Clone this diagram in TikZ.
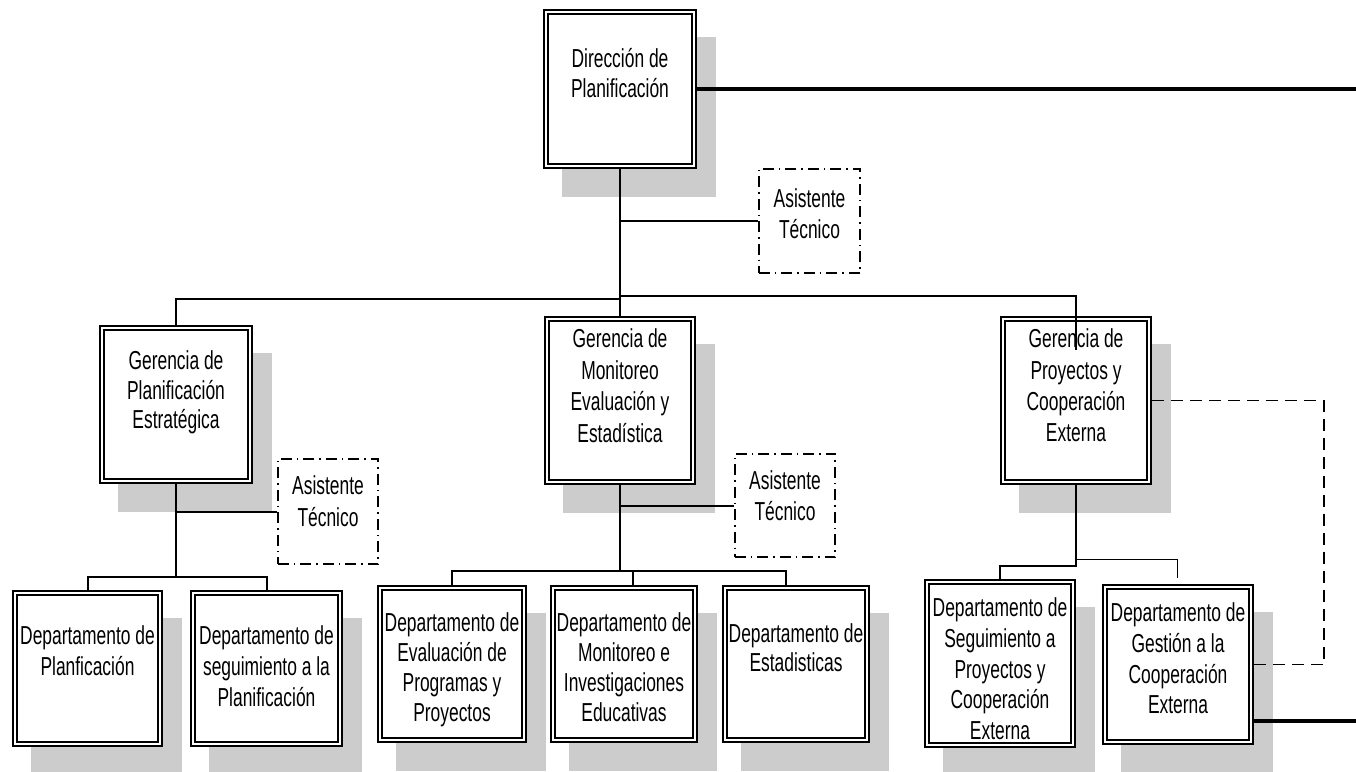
\documentclass[tikz,border=0pt]{standalone}
\usepackage{fontspec}
\setmainfont{Liberation Sans}[FakeStretch=0.67]
\usetikzlibrary{backgrounds}
\newcommand{\orgbox}[5]{%
  \node[obox, minimum width={(#4-#2-5.6)*1pt}, minimum height={(#5-#3-5.6)*1pt}] (#1) at ({(#2+#4)/2},{(#3+#5)/2}) {};
  \begin{pgfonlayer}{background}\fill[shadowc] (#2+19,#3+28) rectangle (#4+19,#5+28);\end{pgfonlayer}}
\newcommand{\asbox}[5]{%
  \node[abox, minimum width={(#4-#2-1.5)*1pt}, minimum height={(#5-#3-1.5)*1pt}] (#1) at ({(#2+#4)/2},{(#3+#5)/2}) {};}
\newcommand{\st}{\rule{0pt}{26pt}}
\begin{document}
\begin{tikzpicture}[x=1pt,y=-1pt,
  obox/.style={draw, double=white, line width=1.8pt, double distance=2.2pt, fill=white, inner sep=0pt, outer sep=2.9pt},
  abox/.style={draw, line width=1.6pt, dash pattern=on 11pt off 5pt on 1.5pt off 5pt, fill=white, inner sep=0pt, outer sep=0.8pt},
  shadowc/.style={fill=black!20},
  txt/.style={font=\fontsize{26pt}{#1pt}\selectfont, align=center, inner sep=0pt, anchor=north},
  conn/.style={line width=2pt},
  thinconn/.style={line width=1pt},
  heavy/.style={line width=4pt},
  dashc/.style={line width=1.8pt, dash pattern=on 12pt off 7pt}]
\useasboundingbox (0,0) rectangle (1356,771);
\clip (0,0) rectangle (1356,771);
\begin{pgfonlayer}{background}\fill[white] (0,0) rectangle (1356,771);\end{pgfonlayer}
% boxes
\orgbox{top}{543}{9}{697}{169}
\orgbox{gpe}{99}{325}{253}{484}
\orgbox{gme}{544}{316}{696}{485}
\orgbox{gpc}{1000}{316}{1152}{485}
\orgbox{d1}{12}{590}{163}{747}
\orgbox{d2}{190}{590}{343}{747}
\orgbox{dA}{377}{585}{527}{743}
\orgbox{dB}{550}{585}{698}{743}
\orgbox{dC}{722}{585}{870}{743}
\orgbox{dD}{924}{579}{1076}{748}
\orgbox{dE}{1102}{584}{1254}{745}
\asbox{a1}{758}{168}{861}{274}
\asbox{a2}{277}{458}{379}{565}
\asbox{a3}{734}{453}{836}{558}
% texts
\node[txt=30] (top-t) at (620,41.5) {\st Dirección de\\Planificación};
\node[txt=29.5] (gpe-t) at (176,343.5) {\st Gerencia de\\Planificación\\Estratégica};
\node[txt=31.5] (gme-t) at (620,321.5) {\st Gerencia de\\Monitoreo\\Evaluación y\\Estadística};
\node[txt=31.3] (gpc-t) at (1076,321.5) {\st Gerencia de\\Proyectos y\\Cooperación\\Externa};
\node[txt=31] (a1-t) at (809.5,181.5) {\st Asistente\\Técnico};
\node[txt=32] (a2-t) at (328,468.5) {\st Asistente\\Técnico};
\node[txt=31] (a3-t) at (785,463.5) {\st Asistente\\Técnico};
\node[txt=31] (d1-t) at (87.5,618.5) {\st Departamento de\\Planficación};
\node[txt=31] (d2-t) at (266.5,618.5) {\st Departamento de\\seguimiento a la\\Planificación};
\node[txt=30] (dA-t) at (452,605.5) {\st Departamento de\\Evaluación de\\Programas y\\Proyectos};
\node[txt=30] (dB-t) at (624,605.5) {\st Departamento de\\Monitoreo e\\Investigaciones\\Educativas};
\node[txt=29] (dC-t) at (796,616.5) {\st Departamento de\\Estadisticas};
\node[txt=30.7] (dD-t) at (1000,590.5) {\st Departamento de\\Seguimiento a\\Proyectos y\\Cooperación\\Externa};
\node[txt=30.7] (dE-t) at (1178,595.5) {\st Departamento de\\Gestión a la\\Cooperación\\Externa};
% helper coordinates
\coordinate (busl) at (620,299);
\coordinate (busr) at (620,296);
\coordinate (gpcin) at (1076,350);
\coordinate (sb1) at (176,577);
\coordinate (sb2) at (620,571);
\coordinate (sb3) at (1076,566);
\coordinate (sb4) at (1076,559);
\coordinate (dEtop) at (1177,578);
\coordinate (dr) at (1324,0);
\coordinate (edge1) at (1356,0);
\coordinate (edge2) at (1356,721);
% connectors
\draw[conn] (top.south) -- (gme.north);
\draw[conn] (top.south |- a1.west) -- (a1.west);
\draw[conn] (busl) -| (gpe.north);
\draw[conn] (busr) -| (gpcin);
\draw[conn] (gpe.south) -- (sb1);
\draw[conn] (gpe.south |- a2.west) -- (a2.west);
\draw[conn] (d1.north) |- (d2.north |- sb1) -- (d2.north);
\draw[conn] (gme.south) -- (sb2);
\draw[conn] (gme.south |- a3.west) -- (a3.west);
\draw[conn] (dA.north) |- ([xshift=-10pt]dC.north |- sb2) -- ([xshift=-10pt]dC.north);
\draw[conn] ([xshift=9pt]dB.north |- sb2) -- ([xshift=9pt]dB.north);
\draw[conn] (gpc.south) -- (sb3) -| (dD.north);
\draw[thinconn] (sb4) -| (dEtop);
\draw[dashc] (gpc.east) -| (dr |- dE.east) -- (dE.east);
\draw[heavy] (top.east) -- (top.east -| edge1);
\draw[heavy] (edge2 -| dE.east) -- (edge2);
\end{tikzpicture}
\end{document}
